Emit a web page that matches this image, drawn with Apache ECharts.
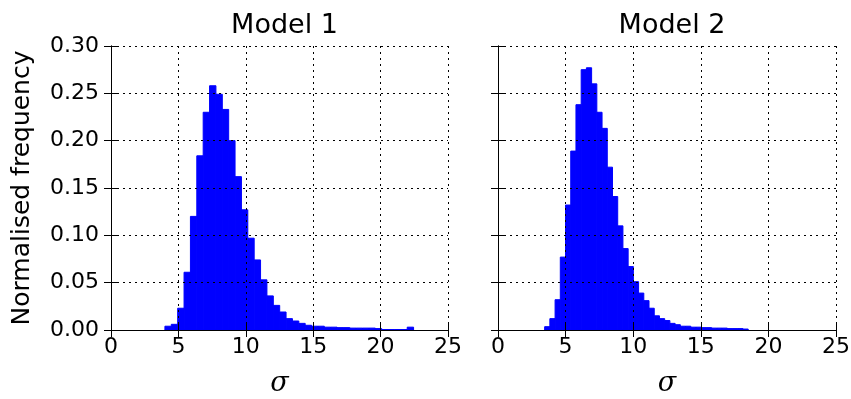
<!DOCTYPE html>
<html>
<head>
<meta charset="utf-8">
<script src="https://cdn.jsdelivr.net/npm/echarts@6/dist/echarts.min.js"></script>
<style>
  html, body { margin: 0; padding: 0; background: #fff; }
  #chart { width: 851px; height: 399px; }
</style>
</head>
<body>
<div id="chart"></div>
<script>
// panel titles and axis texts
const panelTitles = ["Model 1", "Model 2"];
const xName = "σ";
const yName = "Normalised frequency";

// histogram bins: first left edge, bin width, normalised frequency per bin
const model1Start = 4.0;
const model1Width = 0.473;
const model1Freq = [0.004, 0.006, 0.023, 0.061, 0.120, 0.184, 0.230, 0.258, 0.249, 0.233,
  0.200, 0.162, 0.127, 0.097, 0.074, 0.053, 0.036, 0.026, 0.019, 0.012,
  0.0095, 0.007, 0.005, 0.004, 0.004, 0.003, 0.003, 0.0025, 0.0025, 0.002,
  0.002, 0.002, 0.002, 0.0015, 0.0005, 0.0005, 0.0005, 0.0005, 0.003];

const model2Start = 3.45;
const model2Width = 0.386;
const model2Freq = [0.0035, 0.012, 0.032, 0.077, 0.132, 0.189, 0.238, 0.275, 0.277, 0.260,
  0.230, 0.213, 0.172, 0.141, 0.110, 0.086, 0.067, 0.051, 0.039, 0.031,
  0.023, 0.015, 0.012, 0.010, 0.007, 0.0056, 0.004, 0.004, 0.003, 0.003,
  0.0025, 0.0025, 0.002, 0.002, 0.002, 0.0015, 0.0015, 0.0015, 0.001];

// axis ranges
const xMin = 0, xMax = 25, xStep = 5;
const yMin = 0, yMax = 0.30, yStep = 0.05;

// [left edge, right edge, height]
const toBins = (start, width, freq) =>
  freq.map((v, i) => [start + i * width, start + (i + 1) * width, v]);

const font = "DejaVu Sans";
const blue = "#0000ff";

var chart = echarts.init(document.getElementById("chart"));

const grids = [
  { left: 111, right: 403, top: 46, bottom: 69, outerBoundsMode: "none" },
  { left: 498, right: 15, top: 46, bottom: 69, outerBoundsMode: "none" },
];

const dotted = { color: "#000", width: 1, type: [2, 4] };

let xAxes = [];
let yAxes = [];
grids.forEach((g, i) => {
  // bottom axis with labels
  xAxes.push({
    type: "value", gridIndex: i, position: "bottom",
    min: xMin, max: xMax, interval: xStep,
    name: xName, nameLocation: "middle", nameGap: 40,
    nameTextStyle: { fontFamily: "DejaVu Serif", fontStyle: "italic", fontSize: 27, color: "#000" },
    axisLine: { show: true, lineStyle: { color: "#000", width: 1 } },
    axisTick: { show: true, inside: true, length: 7, lineStyle: { color: "#000" } },
    axisLabel: { fontFamily: font, fontSize: 22, color: "#000", margin: 6 },
    splitLine: { show: true, lineStyle: dotted },
  });
  // top frame with ticks
  xAxes.push({
    type: "value", gridIndex: i, position: "top",
    min: xMin, max: xMax, interval: xStep,
    axisLine: { show: true, lineStyle: { color: "#000", width: 1 } },
    axisTick: { show: true, inside: true, length: 7, lineStyle: { color: "#000" } },
    axisLabel: { show: false },
    splitLine: { show: false },
  });
  yAxes.push({
    type: "value", gridIndex: i, position: "left",
    min: yMin, max: yMax, interval: yStep,
    name: i === 0 ? yName : "", nameLocation: "middle", nameGap: 76,
    nameTextStyle: { fontFamily: font, fontSize: 25, color: "#000" },
    axisLine: { show: true, lineStyle: { color: "#000", width: 1 } },
    axisTick: { show: true, inside: true, length: 7, lineStyle: { color: "#000" } },
    axisLabel: {
      show: i === 0, fontFamily: font, fontSize: 22, color: "#000", margin: 12,
      formatter: v => v.toFixed(2),
    },
    splitLine: { show: true, lineStyle: dotted },
  });
  yAxes.push({
    type: "value", gridIndex: i, position: "right",
    min: yMin, max: yMax, interval: yStep,
    axisLine: { show: true, lineStyle: { color: "#000", width: 1 } },
    axisTick: { show: true, inside: true, length: 7, lineStyle: { color: "#000" } },
    axisLabel: { show: false },
    splitLine: { show: false },
  });
});

function renderBin(params, api) {
  const top = api.coord([api.value(0), api.value(2)]);
  const base = api.coord([api.value(1), 0]);
  return {
    type: "rect",
    shape: { x: top[0], y: top[1], width: base[0] - top[0], height: base[1] - top[1] },
    style: { fill: blue, stroke: blue, lineWidth: 1 },
  };
}

const seriesData = [
  toBins(model1Start, model1Width, model1Freq),
  toBins(model2Start, model2Width, model2Freq),
];

var option = {
  animation: false,
  backgroundColor: "#fff",
  title: panelTitles.map((t, i) => ({
    text: t,
    left: i === 0 ? 279.5 : 667,
    top: 7,
    textAlign: "center",
    textStyle: { fontFamily: font, fontSize: 27, fontWeight: "normal", color: "#000" },
  })),
  grid: grids,
  xAxis: xAxes,
  yAxis: yAxes,
  series: seriesData.map((d, i) => ({
    type: "custom",
    xAxisIndex: i * 2,
    yAxisIndex: i * 2,
    z: -1,
    renderItem: renderBin,
    encode: { x: [0, 1], y: 2 },
    data: d,
  })),
};
option && chart.setOption(option);
</script>
</body>
</html>
